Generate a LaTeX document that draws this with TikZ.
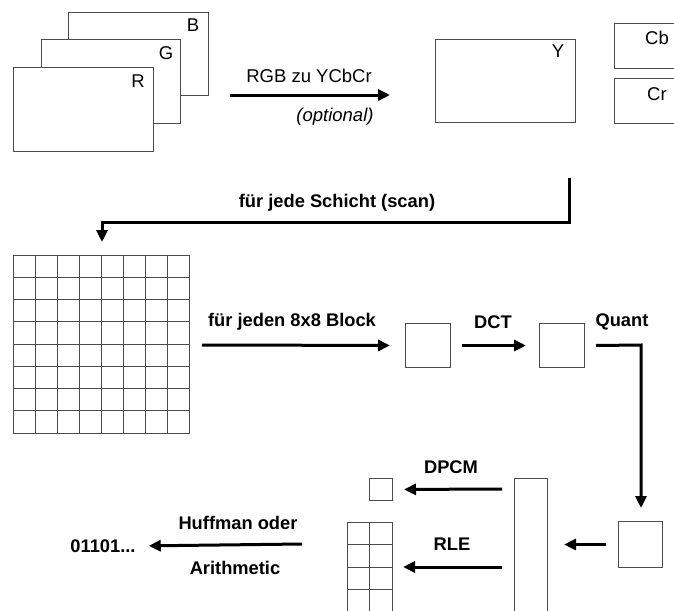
\documentclass[tikz,border=0pt]{standalone}
\usepackage{fontspec}
\setmainfont{Liberation Sans}
\usetikzlibrary{arrows.meta}
\begin{document}
\begin{tikzpicture}[x=1pt,y=-1pt,
  box/.style={draw=black!70, line width=1pt, fill=white, inner sep=0pt, anchor=north west},
  arr/.style={line width=3pt, -{Triangle[length=12pt,width=11pt]}},
  gl/.style={draw=black!70, line width=1pt},
  lbl/.style={font=\fontsize{18.3}{21}\selectfont\bfseries, inner sep=0pt},
  ltr/.style={font=\fontsize{18.5}{21}\selectfont, inner sep=0pt}]
\useasboundingbox (0,0) rectangle (674,610);
\clip (0,0) rectangle (674,610);
% RGB planes
\node[box, minimum width=140pt, minimum height=83pt] (B) at (68,12) {};
\node[box, minimum width=139pt, minimum height=84pt] (G) at (41,39) {};
\node[box, minimum width=140pt, minimum height=84pt] (R) at (13,67) {};
\node[ltr] (Bl) at (193,25) {B};
\node[ltr] (Gl) at (166,53) {G};
\node[ltr] (Rl) at (138,81) {R};
% YCbCr planes
\node[box, minimum width=140pt, minimum height=83pt] (Y) at (435,39) {};
\node[box, minimum width=80pt, minimum height=45pt] (Cb) at (614,23) {};
\node[box, minimum width=80pt, minimum height=45pt] (Cr) at (614,78) {};
\node[ltr] (Yl) at (558,51) {Y};
\node[ltr] (Cbl) at (657,38) {Cb};
\node[ltr] (Crl) at (657,94) {Cr};
% RGB -> YCbCr arrow
\coordinate (a1) at (230,95);
\coordinate (a2) at (390,95);
\draw[arr] (a1) -- (a2);
\node[ltr] (rgbl) at (309,76) {RGB zu YCbCr};
\node[ltr, font=\fontsize{18.5}{21}\selectfont\itshape] (optl) at (335,117) {(optional)};
% scan arrow
\coordinate (s1) at (569,178);
\coordinate (s2) at (102,242);
\draw[arr] (s1) -- (569,222) -- (102,222) -- (s2);
\node[lbl] (scanl) at (337,203) {für jede Schicht (scan)};
% 8x8 grid
\node[box, minimum width=176pt, minimum height=178pt] (grid) at (13,255) {};
\foreach \i in {1,...,7} {
  \draw[gl] (13+22*\i,255) -- (13+22*\i,433);
  \draw[gl] (13,255+22.25*\i) -- (189,255+22.25*\i);
}
% blocks
\node[box, minimum width=45pt, minimum height=44pt] (b1) at (405,323) {};
\node[box, minimum width=45pt, minimum height=44pt] (b2) at (539,323) {};
\coordinate (g1) at (202,345);
\draw[arr] (g1) -- (b1.west) [shorten >=15pt];
\node[lbl] (blockl) at (292,322) {für jeden 8x8 Block};
\draw[arr, shorten <=11pt, shorten >=13pt] (b1.east) -- (b2.west);
\node[lbl] (dctl) at (493,322) {DCT};
\node[lbl] (quantl) at (622,322) {Quant};
% quant to box3
\node[box, minimum width=44pt, minimum height=46pt] (b3) at (618,521) {};
\coordinate (q1) at (641,508);
\draw[arr] ([xshift=11pt]b2.east) -- (641,345) -- (q1);
% tall column
\node[box, minimum width=33pt, minimum height=150pt] (col) at (514,478) {};
\draw[arr, shorten <=12pt, shorten >=16pt] (b3.west) -- (b3.west -| col.east);
% DPCM
\node[box, minimum width=23pt, minimum height=22pt] (dc) at (369,478) {};
\coordinate (d1) at (502,489);
\draw[arr] (d1) -- (dc.east) [shorten >=11pt];
\node[lbl] (dpcml) at (451,467) {DPCM};
% RLE stack
\node[box, minimum width=45pt, minimum height=100pt] (ac) at (347,522) {};
\draw[gl] (369,522) -- (369,622);
\foreach \yy in {544,567,589} { \draw[gl] (347,\yy) -- (392,\yy); }
\coordinate (r1) at (502,567);
\coordinate (r2) at (403,567);
\draw[arr] (r1) -- (r2);
\node[lbl] (rlel) at (452,544) {RLE};
% Huffman
\node[lbl] (out) at (103,546) {01101...};
\coordinate (h1) at (302,544);
\draw[arr] (h1) -- (out.east) [shorten >=13pt];
\node[lbl] (huffl) at (238,523) {Huffman oder};
\node[lbl] (arithl) at (235,568) {Arithmetic};
\end{tikzpicture}
\end{document}
